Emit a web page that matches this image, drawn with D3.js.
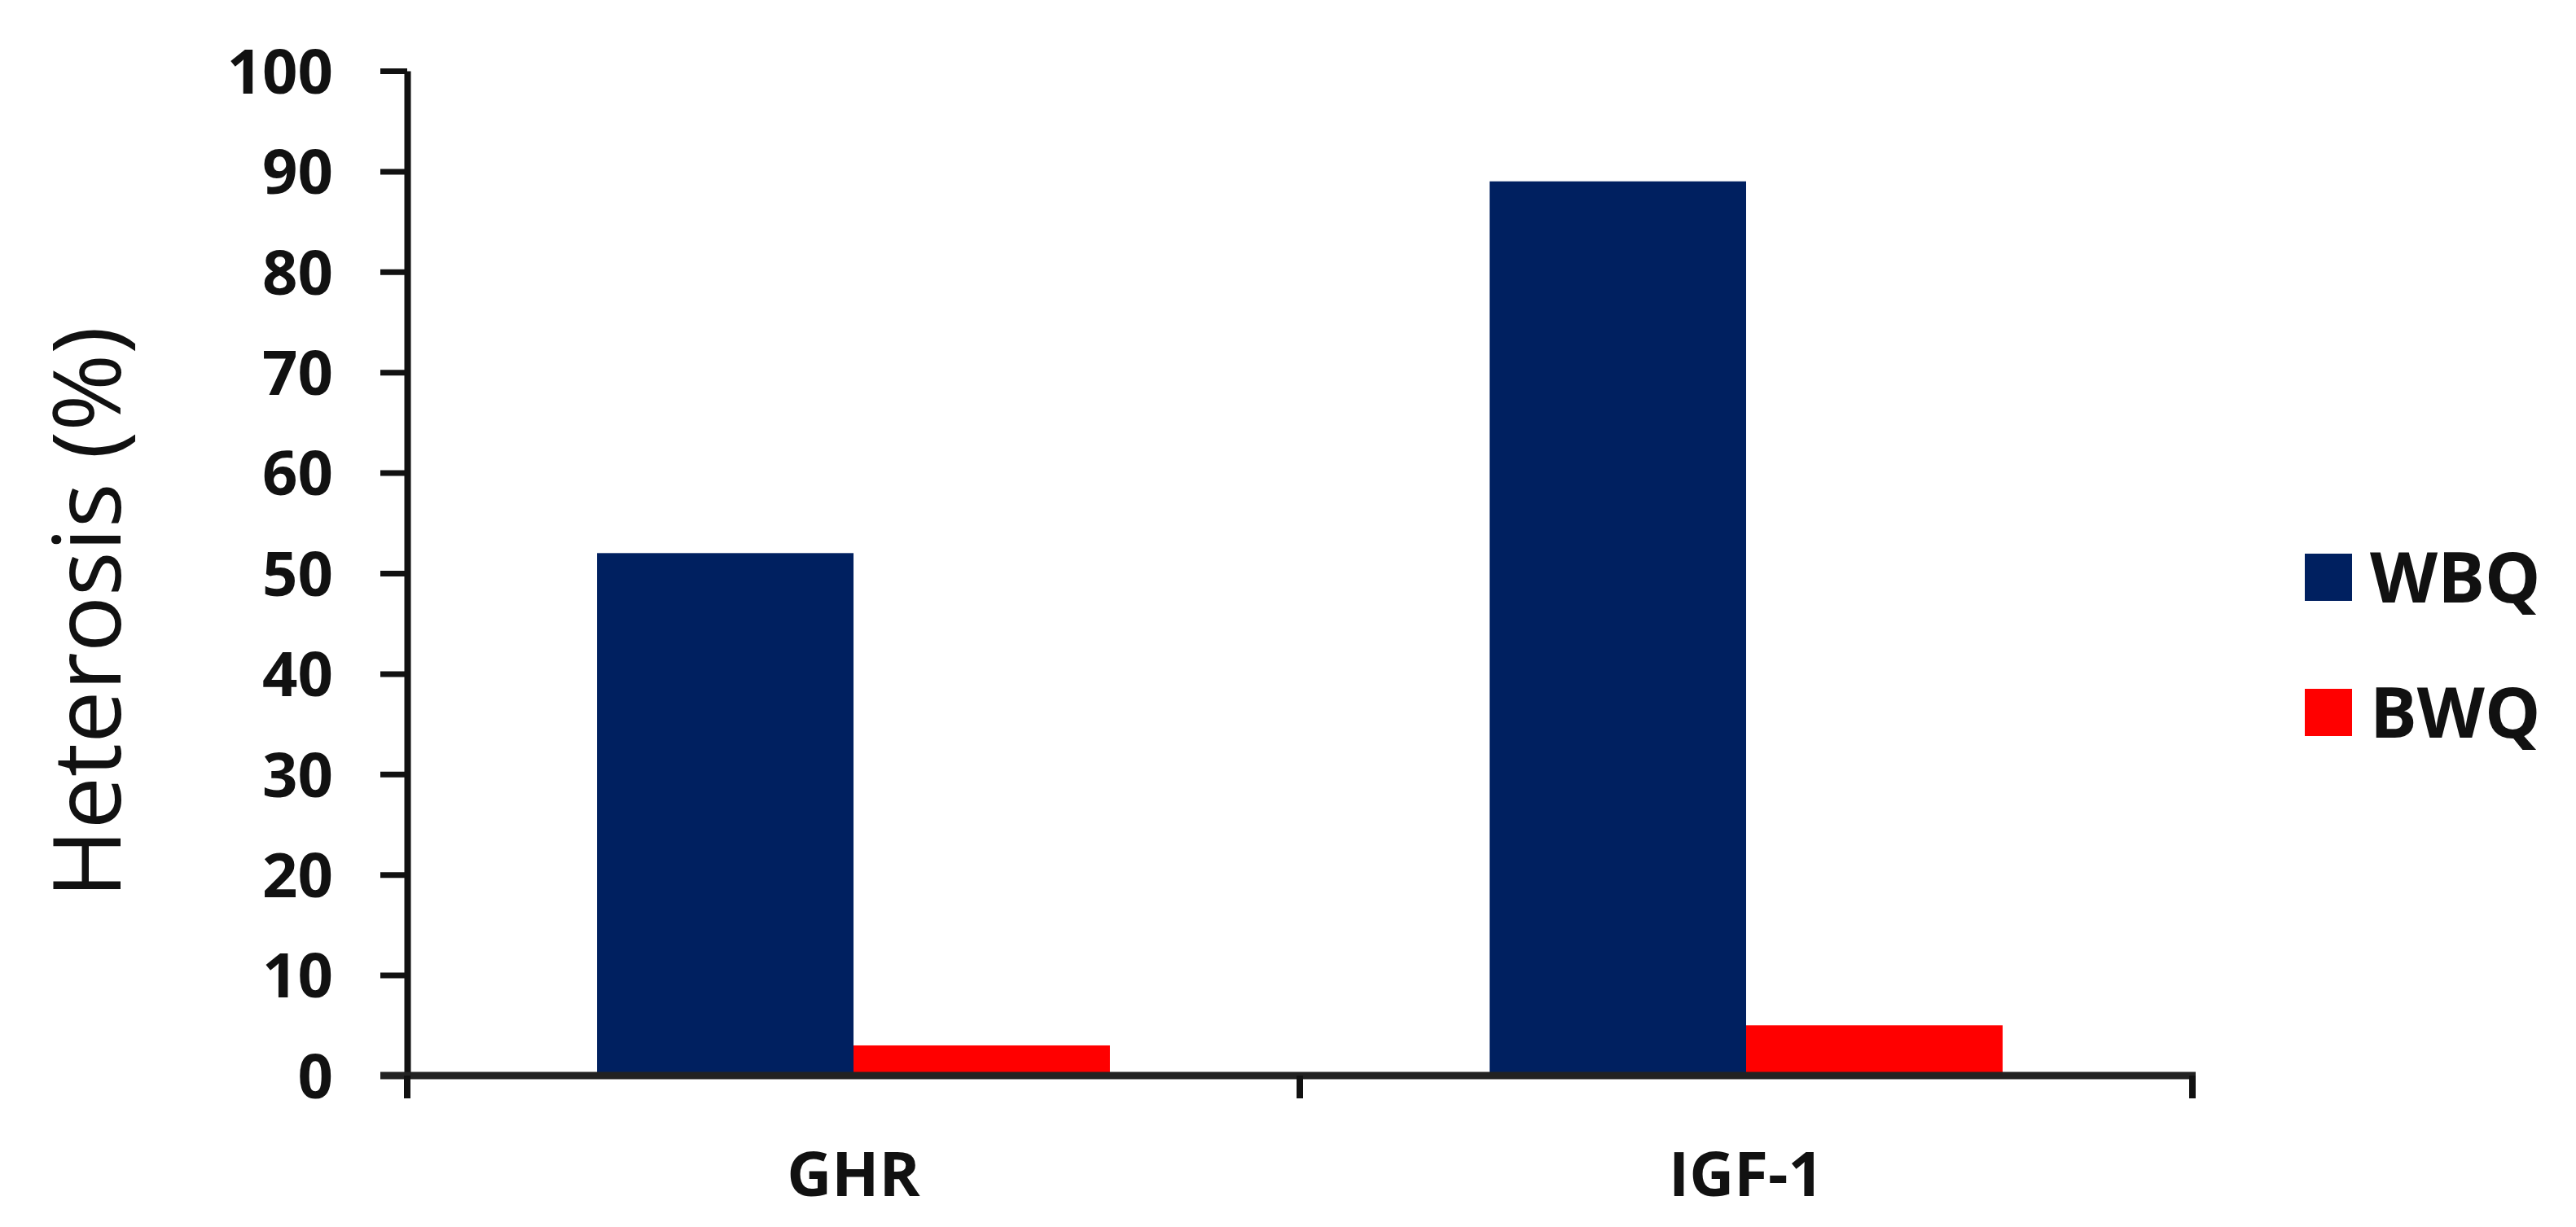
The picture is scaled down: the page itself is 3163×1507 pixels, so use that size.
<!DOCTYPE html>
<html>
<head>
<meta charset="utf-8">
<script src="https://cdn.jsdelivr.net/npm/d3@7"></script>
<style>
  html, body { margin: 0; padding: 0; background: #fff; }
  svg { display: block; }
</style>
</head>
<body>
<svg id="chart" width="3163" height="1507"></svg>
<script>
// ---- data ----
const categories = ["GHR", "IGF-1"];
const seriesNames = ["WBQ", "BWQ"];
const wbqValues = [52, 89];
const bwqValues = [3, 5];
const yTickValues = [0, 10, 20, 30, 40, 50, 60, 70, 80, 90, 100];
const yTitle = "Heterosis (%)";
const seriesColors = ["#002060", "#ff0000"];

const seriesValues = [wbqValues, bwqValues];
const rows = categories.map((c, i) => ({
  cat: c,
  vals: seriesNames.map((s, j) => ({ key: s, value: seriesValues[j][i], color: seriesColors[j] }))
}));

// ---- layout ----
const svg = d3.select("#chart");
const plotLeft = 500, plotRight = 2692, plotTop = 87, plotBottom = 1321;
const fontTick = "'Open Sans', 'Liberation Sans', sans-serif";

const x0 = d3.scaleBand().domain(categories).range([plotLeft, plotRight]).paddingInner(0).paddingOuter(0);
const x1 = d3.scaleBand().domain(seriesNames).range([0, x0.bandwidth()]).paddingInner(0).paddingOuter(0.74);
const y = d3.scaleLinear().domain([0, 100]).range([plotBottom, plotTop]);

// bars
const g = svg.append("g");
g.selectAll("g.grp").data(rows).join("g")
  .attr("class", "grp")
  .attr("transform", d => `translate(${x0(d.cat)},0)`)
  .selectAll("rect").data(d => d.vals).join("rect")
  .attr("x", d => x1(d.key))
  .attr("width", x1.bandwidth())
  .attr("y", d => y(d.value))
  .attr("height", d => y(0) - y(d.value))
  .attr("fill", d => d.color);

// y axis
const yAxis = svg.append("g")
  .attr("transform", `translate(${plotLeft},0)`)
  .call(d3.axisLeft(y).tickValues(yTickValues).tickSize(33).tickPadding(58).tickSizeOuter(0));
yAxis.select(".domain").attr("stroke", "#111").attr("stroke-width", 8);
yAxis.selectAll(".tick line").attr("stroke", "#111").attr("stroke-width", 7);
yAxis.selectAll(".tick text")
  .attr("font-family", fontTick)
  .attr("font-weight", 700)
  .attr("font-size", 76)
  .attr("fill", "#111")
  .attr("dy", "0.36em");

// x axis (labels at band centres, ticks at band boundaries)
const xAxis = svg.append("g")
  .attr("transform", `translate(0,${plotBottom})`)
  .call(d3.axisBottom(x0).tickSize(0).tickPadding(94).tickSizeOuter(0));
xAxis.select(".domain").remove();
xAxis.selectAll(".tick text")
  .attr("font-family", fontTick)
  .attr("font-weight", 700)
  .attr("font-size", 76)
  .attr("fill", "#111");

const bounds = [x0.range()[0]].concat(categories.map(c => x0(c) + x0.bandwidth()));
svg.append("line")
  .attr("x1", plotLeft - 33).attr("x2", plotRight + 4)
  .attr("y1", plotBottom).attr("y2", plotBottom)
  .attr("stroke", "#222").attr("stroke-width", 9);
svg.selectAll("line.xtick").data(bounds).join("line")
  .attr("class", "xtick")
  .attr("x1", d => d).attr("x2", d => d)
  .attr("y1", plotBottom).attr("y2", plotBottom + 28)
  .attr("stroke", "#111").attr("stroke-width", 8);

// y title
svg.append("text")
  .attr("transform", `translate(148,${(plotTop + plotBottom) / 2 + 48}) rotate(-90)`)
  .attr("text-anchor", "middle")
  .attr("font-family", fontTick)
  .attr("font-weight", 400)
  .attr("font-size", 115)
  .attr("fill", "#111")
  .text(yTitle);

// legend
const legend = svg.append("g").attr("transform", "translate(2830,680)");
const li = legend.selectAll("g").data(seriesNames).join("g")
  .attr("transform", (d, i) => `translate(0,${i * 166})`);
li.append("rect").attr("width", 58).attr("height", 58)
  .attr("fill", (d, i) => seriesColors[i]);
li.append("text")
  .attr("x", 80).attr("y", 29).attr("dy", "0.36em")
  .attr("font-family", fontTick)
  .attr("font-weight", 700)
  .attr("font-size", 86)
  .attr("fill", "#111")
  .text(d => d);
</script>
</body>
</html>
